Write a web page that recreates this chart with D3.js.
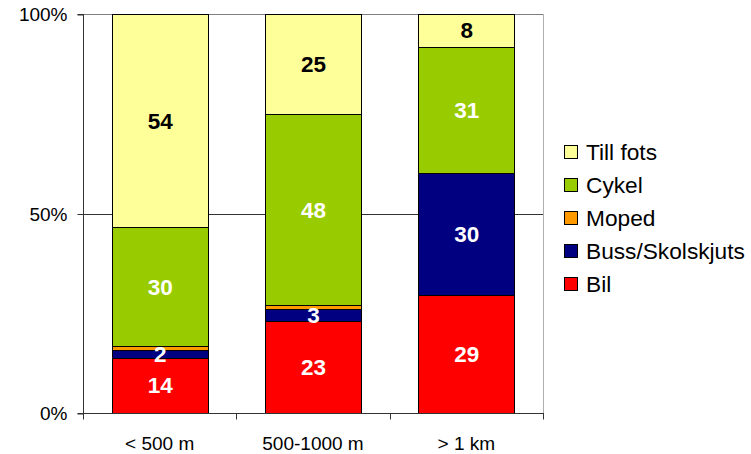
<!DOCTYPE html>
<html>
<head>
<meta charset="utf-8">
<script src="https://cdn.jsdelivr.net/npm/d3@7"></script>
<style>
  html, body { margin: 0; padding: 0; background: #fff; }
  svg { display: block; font-family: "Liberation Sans", Arial, sans-serif; }
</style>
</head>
<body>
<svg id="chart" width="751" height="454"></svg>
<script>
// Travel mode shares by distance to school (percent)
const categories = ["< 500 m", "500-1000 m", "> 1 km"];
const seriesNames = ["Bil", "Buss/Skolskjuts", "Moped", "Cykel", "Till fots"];
const bil = [14, 23, 29];
const buss = [2, 3, 30];
const moped = [1, 1, 0];
const cykel = [30, 48, 31];
const tillFots = [54, 25, 8];
const yTicks = [0, 0.5, 1];
const yTickLabels = ["0%", "50%", "100%"];

const seriesColors = ["#FF0000", "#000080", "#FF9900", "#99CC00", "#FFFF99"];
const labelColors = ["#fff", "#fff", null, "#fff", "#000"];

const values = [bil, buss, moped, cykel, tillFots];
const rows = categories.map((c, i) => {
  const r = { cat: c };
  seriesNames.forEach((s, k) => { r[s] = values[k][i]; });
  return r;
});

const svg = d3.select("#chart");
const plot = { left: 83, right: 543, top: 14, bottom: 413 };

const x = d3.scaleBand().domain(categories).range([plot.left, plot.right])
  .paddingInner(0.374).paddingOuter(0.187);
const y = d3.scaleLinear().domain([0, 1]).range([plot.bottom, plot.top]);

const stacked = d3.stack().keys(seriesNames).offset(d3.stackOffsetExpand)(rows);

// Gridline at 50%
svg.append("line")
  .attr("x1", plot.left).attr("x2", plot.right)
  .attr("y1", Math.round(y(0.5)) + 0.5).attr("y2", Math.round(y(0.5)) + 0.5)
  .attr("stroke", "#333").attr("stroke-width", 1);
// Top border / 100% gridline
svg.append("line")
  .attr("x1", plot.left).attr("x2", plot.right + 0.5)
  .attr("y1", plot.top + 0.5).attr("y2", plot.top + 0.5)
  .attr("stroke", "#808080").attr("stroke-width", 1);
// Right border
svg.append("line")
  .attr("x1", plot.right + 0.5).attr("x2", plot.right + 0.5)
  .attr("y1", plot.top).attr("y2", plot.bottom)
  .attr("stroke", "#b0b0b0").attr("stroke-width", 1);

// Bars
const layers = svg.append("g").selectAll("g").data(stacked).join("g")
  .attr("fill", (d, i) => seriesColors[i]);
layers.selectAll("rect").data(d => d.map(p => ({ p, cat: p.data.cat }))).join("rect")
  .attr("x", d => Math.round(x(d.cat)) + 0.5)
  .attr("width", Math.round(x.bandwidth()))
  .attr("y", d => Math.round(y(d.p[1])) + 0.5)
  .attr("height", d => Math.max(0, Math.round(y(d.p[0])) - Math.round(y(d.p[1]))))
  .attr("stroke", "#000").attr("stroke-width", 1)
  .attr("display", d => d.p[1] - d.p[0] > 0 ? null : "none");

// Value labels
stacked.forEach((layer, k) => {
  if (!labelColors[k]) return;
  svg.append("g").selectAll("text").data(layer).join("text")
    .attr("x", d => x(d.data.cat) + x.bandwidth() / 2 + 0.5)
    .attr("y", d => (y(d[0]) + y(d[1])) / 2)
    .attr("dy", "0.36em")
    .attr("text-anchor", "middle")
    .attr("font-size", 22.5).attr("font-weight", "bold")
    .attr("fill", labelColors[k])
    .text(d => d.data[seriesNames[k]]);
});

// Y axis
const yAxis = d3.axisLeft(y).tickValues(yTicks)
  .tickFormat((d, i) => yTickLabels[i]).tickSize(6).tickPadding(10);
const gy = svg.append("g").attr("transform", `translate(${plot.left + 0.5},0.5)`).call(yAxis);
gy.select(".domain").attr("stroke", "#333").attr("d", `M-6,${plot.top}H0V${plot.bottom}H-6`);
gy.selectAll(".tick line").attr("stroke", "#333");
gy.selectAll(".tick text").attr("font-size", 19).attr("fill", "#000")
  .attr("font-family", "Liberation Sans, Arial, sans-serif");

// X axis
const gx = svg.append("g").attr("transform", `translate(0,${plot.bottom + 0.5})`);
gx.append("line").attr("x1", plot.left).attr("x2", plot.right + 1)
  .attr("stroke", "#333");
const tickXs = d3.range(categories.length + 1).map(i => plot.left + i * (plot.right - plot.left) / categories.length);
gx.selectAll("line.tk").data(tickXs).join("line").attr("class", "tk")
  .attr("x1", d => Math.round(d) + 0.5).attr("x2", d => Math.round(d) + 0.5)
  .attr("y1", 0).attr("y2", 6).attr("stroke", "#333");
gx.selectAll("text").data(categories).join("text")
  .attr("x", d => x(d) + x.bandwidth() / 2)
  .attr("y", 36)
  .attr("text-anchor", "middle")
  .attr("font-size", 19).attr("fill", "#000")
  .text(d => d);

// Legend (top entry is the top of the stack)
const legend = svg.append("g").attr("transform", "translate(564,145)");
const legendOrder = seriesNames.map((s, i) => i).reverse();
const li = legend.selectAll("g").data(legendOrder).join("g")
  .attr("transform", (d, i) => `translate(0,${i * 33})`);
li.append("rect").attr("x", 0.5).attr("y", 0.5).attr("width", 13).attr("height", 13)
  .attr("fill", d => seriesColors[d]).attr("stroke", "#000").attr("stroke-width", 1);
li.append("text").attr("x", 22).attr("y", 7).attr("dy", "0.36em")
  .attr("font-size", 22.7).attr("fill", "#000")
  .text(d => seriesNames[d]);
</script>
</body>
</html>
